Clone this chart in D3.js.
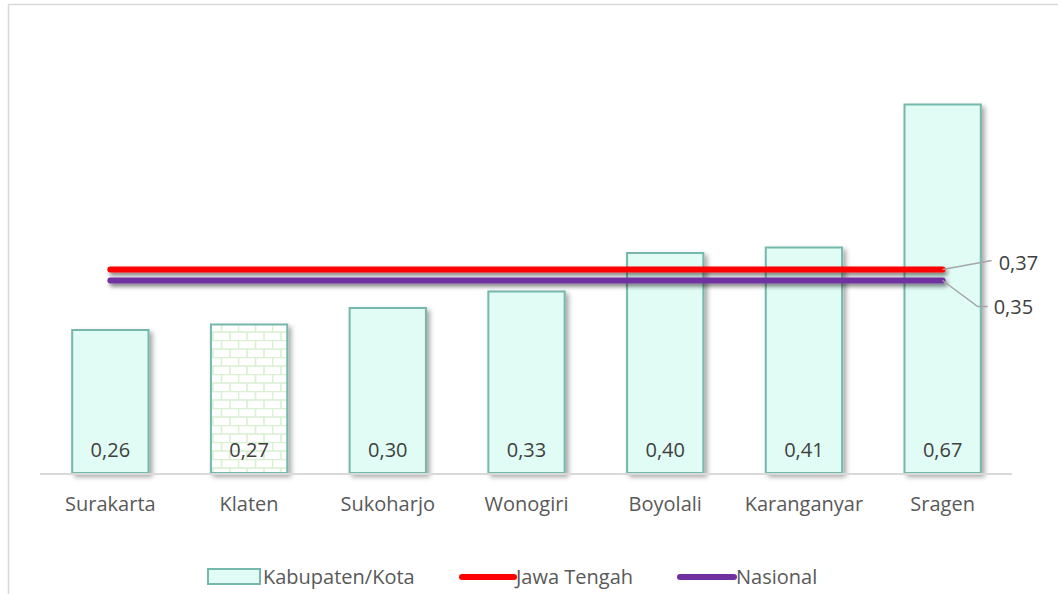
<!DOCTYPE html>
<html><head><meta charset="utf-8">
<script src="https://cdn.jsdelivr.net/npm/d3@7"></script>
<style>
html,body{margin:0;padding:0;background:#fff;}
svg{display:block;font-family:"Open Sans", sans-serif;}
</style></head>
<body><svg id="c" width="1058" height="594"></svg>
<script>
const categories = ["Surakarta","Klaten","Sukoharjo","Wonogiri","Boyolali","Karanganyar","Sragen"];
const values = [0.26,0.27,0.30,0.33,0.40,0.41,0.67];
const jawaTengah = 0.37;
const nasional = 0.35;
const seriesNames = ["Kabupaten/Kota","Jawa Tengah","Nasional"];
const fmt = v => d3.format(".2f")(v).replace(".", ",");

const FS = 20;
const svg = d3.select("#c");
const defs = svg.append("defs");
const sh = defs.append("filter").attr("id","sh").attr("x","-20%").attr("y","-20%").attr("width","150%").attr("height","150%");
sh.append("feDropShadow").attr("dx",3).attr("dy",3).attr("stdDeviation",2.5).attr("flood-color","#000").attr("flood-opacity",0.35);
const shl = defs.append("filter").attr("id","shl").attr("filterUnits","userSpaceOnUse")
  .attr("x",0).attr("y",0).attr("width",1058).attr("height",594);
shl.append("feDropShadow").attr("dx",2).attr("dy",3).attr("stdDeviation",2.2).attr("flood-color","#000").attr("flood-opacity",0.5);

const pat = defs.append("pattern").attr("id","brick").attr("patternUnits","userSpaceOnUse")
  .attr("width",34).attr("height",17);
pat.append("rect").attr("width",34).attr("height",17).attr("fill","#ffffff");
const pc = "#d9f0d2";
pat.append("path").attr("d","M0,0.5H34M0,9H34M0.5,0V9M17.5,0V9M9,9V17M26,9V17")
  .attr("stroke",pc).attr("stroke-width",1.6).attr("fill","none");

// chart border
svg.append("rect").attr("x",8.5).attr("y",4.5).attr("width",1060).attr("height",600)
  .attr("fill","none").attr("stroke","#d9d9d9").attr("stroke-width",1.5);

const x = d3.scaleBand().domain(categories).range([41,1012]).paddingInner(0.45).paddingOuter(0.225);
const y = d3.scaleLinear().domain([0,0.8]).range([473,33]);

// bars
svg.append("g").selectAll("rect").data(values).join("rect")
  .attr("x",(d,i)=>x(categories[i]))
  .attr("y",d=>y(d))
  .attr("width",x.bandwidth())
  .attr("height",d=>y(0)-y(d))
  .attr("fill",(d,i)=>categories[i]==="Klaten"?"url(#brick)":"#e0fcf4")
  .attr("stroke","#76b8ab").attr("stroke-width",2)
  .attr("filter","url(#sh)");

// axis baseline
const xAxis = svg.append("g").attr("transform",`translate(0,${y(0)+1})`).call(d3.axisBottom(x).tickSize(0).tickPadding(23));
xAxis.select(".domain").attr("stroke","#d9d9d9").attr("stroke-width",2).attr("d","M40,0H1012");
xAxis.selectAll("text").attr("font-size",FS).attr("fill","#595959").attr("font-family","'Open Sans', sans-serif");

// value labels
svg.append("g").selectAll("text").data(values).join("text")
  .attr("x",(d,i)=>x(categories[i])+x.bandwidth()/2)
  .attr("y",y(0)-16)
  .attr("text-anchor","middle").attr("font-size",FS).attr("fill","#404040")
  .text(d=>fmt(d));

// lines
const x1 = x(categories[0])+x.bandwidth()/2;
const x2 = x(categories[categories.length-1])+x.bandwidth()/2;
const lines = [{v:jawaTengah,c:"#ff0000"},{v:nasional,c:"#7030a0"}];
svg.append("g").selectAll("line").data(lines).join("line")
  .attr("x1",x1).attr("x2",x2).attr("y1",d=>y(d.v)).attr("y2",d=>y(d.v))
  .attr("stroke",d=>d.c).attr("stroke-width",6).attr("stroke-linecap","round")
  .attr("filter","url(#shl)");

// leader lines + labels
svg.append("path").attr("d",`M${x2},${y(jawaTengah)}L${x2+49},${y(jawaTengah)-9}`)
  .attr("stroke","#a6a6a6").attr("stroke-width",1.5).attr("fill","none");
svg.append("text").attr("x",x2+56).attr("y",y(jawaTengah)).attr("font-size",FS).attr("fill","#404040").text(fmt(jawaTengah));
svg.append("path").attr("d",`M${x2},${y(nasional)}L${x2+35},${y(nasional)+26}H${x2+45}`)
  .attr("stroke","#a6a6a6").attr("stroke-width",1.5).attr("fill","none");
svg.append("text").attr("x",x2+51).attr("y",y(nasional)+33).attr("font-size",FS).attr("fill","#404040").text(fmt(nasional));

// legend
const lg = svg.append("g");
lg.append("rect").attr("x",208).attr("y",569).attr("width",52).attr("height",15)
  .attr("fill","#e0fcf4").attr("stroke","#76b8ab").attr("stroke-width",2);
lg.append("text").attr("x",263).attr("y",584).attr("font-size",FS).attr("fill","#595959").text(seriesNames[0]);
lg.append("line").attr("x1",462).attr("x2",514).attr("y1",577).attr("y2",577).attr("stroke","#ff0000").attr("stroke-width",6).attr("stroke-linecap","round");
lg.append("text").attr("x",516).attr("y",584).attr("font-size",FS).attr("fill","#595959").text(seriesNames[1]);
lg.append("line").attr("x1",680).attr("x2",734).attr("y1",577).attr("y2",577).attr("stroke","#7030a0").attr("stroke-width",6).attr("stroke-linecap","round");
lg.append("text").attr("x",736).attr("y",584).attr("font-size",FS).attr("fill","#595959").text(seriesNames[2]);
</script></body></html>
